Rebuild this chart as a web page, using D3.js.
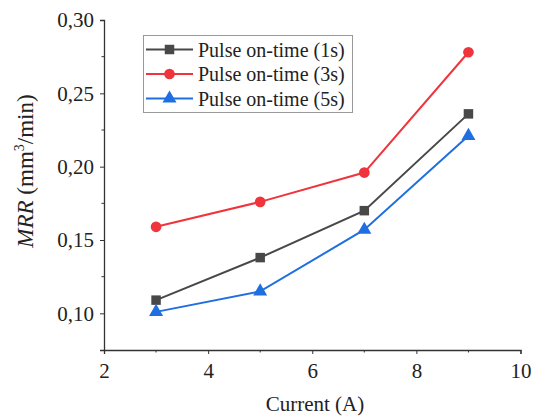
<!DOCTYPE html>
<html>
<head>
<meta charset="utf-8">
<script src="https://cdn.jsdelivr.net/npm/d3@7"></script>
<style>
  body { margin: 0; background: #fff; }
  text { font-family: "Liberation Serif", "Times New Roman", serif; }
</style>
</head>
<body>
<script>
// datos
var corriente = [3, 5, 7, 9]
var mrr1s = [0.109, 0.138, 0.170, 0.236]
var mrr3s = [0.159, 0.176, 0.196, 0.278]
var mrr5s = [0.101, 0.115, 0.157, 0.221]
var nombres = ["Pulse on-time (1s)", "Pulse on-time (3s)", "Pulse on-time (5s)"]
var ticksX = [2, 4, 6, 8, 10]
var ticksY = [0.10, 0.15, 0.20, 0.25, 0.30]

var width = 537
var height = 417
var margin = { top: 20, bottom: 67, left: 104, right: 16 }

var series = [
  { nombre: nombres[0], valores: mrr1s, color: "#484848", simbolo: d3.symbolSquare, tam: 90 },
  { nombre: nombres[1], valores: mrr3s, color: "#f0343c", simbolo: d3.symbolCircle, tam: 90 },
  { nombre: nombres[2], valores: mrr5s, color: "#1f6fe0", simbolo: d3.symbolTriangle, tam: 85 }
]

var escalaX = d3.scaleLinear()
  .domain([2, 10])
  .range([margin.left, width - margin.right - 0.5])

var escalaY = d3.scaleLinear()
  .domain([0.075, 0.30])
  .range([height - margin.bottom, margin.top])

var svg = d3.select("body").append("svg")
  .attr("width", width)
  .attr("height", height)

// EJES
var ejeX = d3.axisBottom(escalaX).tickValues(ticksX).tickSize(4).tickPadding(9)
var ejeY = d3.axisLeft(escalaY).tickValues(ticksY).tickSize(4).tickPadding(6)
  .tickFormat(d => d3.format(".2f")(d).replace(".", ","))

var gx = svg.append("g")
  .attr("transform", "translate(0," + (height - margin.bottom) + ")")
  .call(ejeX)
var gy = svg.append("g")
  .attr("transform", "translate(" + margin.left + ",0)")
  .call(ejeY)

// ticks menores
gx.selectAll(".menor").data([3, 5, 7, 9]).enter().append("line")
  .attr("x1", d => escalaX(d)).attr("x2", d => escalaX(d))
  .attr("y1", 0).attr("y2", 2.5).attr("stroke", "#333")
gy.selectAll(".menor").data([0.125, 0.175, 0.225, 0.275]).enter().append("line")
  .attr("y1", d => escalaY(d)).attr("y2", d => escalaY(d))
  .attr("x1", 0).attr("x2", -2.5).attr("stroke", "#333")

svg.selectAll(".domain").attr("stroke", "#333").attr("stroke-width", 1.3)
svg.selectAll(".tick line").attr("stroke", "#333")
svg.selectAll(".tick text")
  .style("font-family", "Liberation Serif, serif")
  .style("font-size", "21px")
  .attr("fill", "#222")

// titulos de ejes
svg.append("text")
  .attr("x", 315)
  .attr("y", 411)
  .attr("text-anchor", "middle")
  .style("font-size", "21px")
  .attr("fill", "#222")
  .text("Current (A)")

var tituloY = svg.append("text")
  .attr("transform", "translate(33,171) rotate(-90)")
  .attr("text-anchor", "middle")
  .style("font-size", "23px")
  .attr("fill", "#222")
tituloY.append("tspan").style("font-style", "italic").text("MRR")
tituloY.append("tspan").text(" (mm")
tituloY.append("tspan").attr("dy", -9).style("font-size", "14px").text("3")
tituloY.append("tspan").attr("dy", 9).text("/min)")

// LINEAS Y PUNTOS
var linea = d3.line()
  .x((d, i) => escalaX(corriente[i]))
  .y(d => escalaY(d))

series.forEach(function (s) {
  svg.append("path")
    .attr("d", linea(s.valores))
    .attr("fill", "none")
    .attr("stroke", s.color)
    .attr("stroke-width", 2)
  svg.selectAll(null).data(s.valores).enter().append("path")
    .attr("d", d3.symbol().type(s.simbolo).size(s.tam))
    .attr("transform", (d, i) => "translate(" + escalaX(corriente[i]) + "," + escalaY(d) + ")")
    .attr("fill", s.color)
})

// LEYENDA
var leyenda = svg.append("g").attr("transform", "translate(143,35)")
leyenda.append("rect")
  .attr("x", 0.5).attr("y", 0.5)
  .attr("width", 209).attr("height", 77)
  .attr("fill", "#fff")
  .attr("stroke", "#999")
  .attr("stroke-width", 1)

series.forEach(function (s, i) {
  var yy = 14.5 + i * 24.5
  leyenda.append("line")
    .attr("x1", 3).attr("x2", 50)
    .attr("y1", yy).attr("y2", yy)
    .attr("stroke", s.color).attr("stroke-width", 2)
  leyenda.append("path")
    .attr("d", d3.symbol().type(s.simbolo).size(s.tam))
    .attr("transform", "translate(26.5," + yy + ")")
    .attr("fill", s.color)
  leyenda.append("text")
    .attr("x", 55).attr("y", yy + 7)
    .style("font-size", "20px")
    .attr("fill", "#222")
    .text(s.nombre)
})
</script>
</body>
</html>
